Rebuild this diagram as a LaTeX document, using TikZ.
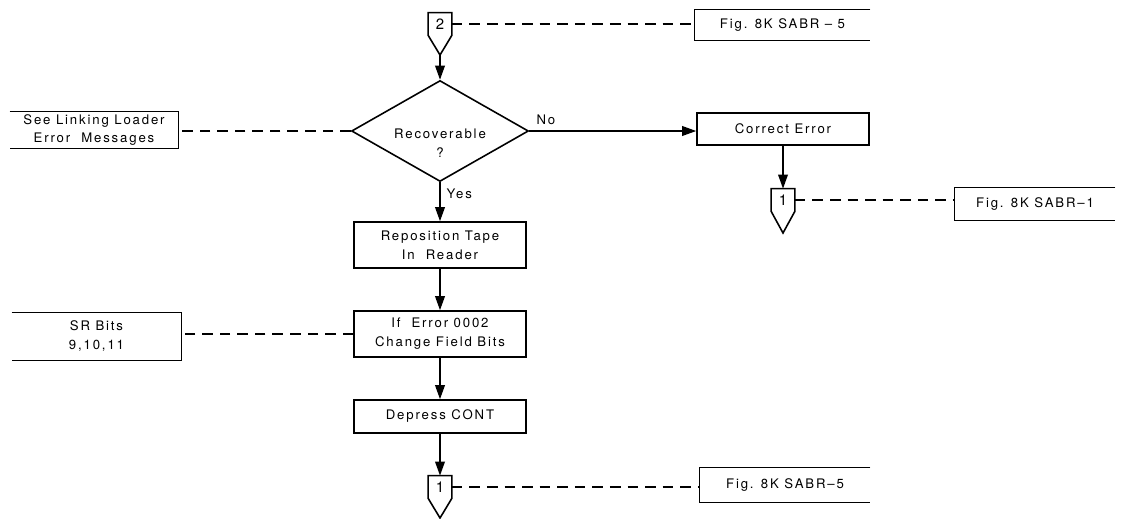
\documentclass[tikz,border=0pt]{standalone}
\usepackage{fontspec}
\setmainfont{TeX Gyre Heros}[LetterSpace=14]
\usetikzlibrary{arrows.meta,shapes.geometric}
\def\procnode{\node[draw,line width=0.9pt,minimum width=3.44cm,align=center,inner sep=0pt]}
\def\pagenode{\node[minimum width=0.46cm,minimum height=0.44cm,inner sep=0pt,font=\fontsize{8.5}{10}\selectfont]}
\def\notenode{\node[align=center,inner sep=0pt]}
\def\drawflow{\draw[line width=0.9pt,-{Triangle[length=8pt,width=5.5pt]}]}
\def\drawnote{\draw[line width=0.6pt,dash pattern=on 6pt off 4pt]}
\def\drawbox{\draw[line width=0.9pt]}

\begin{document}
\begin{tikzpicture}[x=0.02cm,y=-0.02cm,font=\fontsize{7.5}{10.8}\selectfont]
\useasboundingbox (0,0) rectangle (1125,518);
\pagenode (ctwo) at (440,24) {2};
\coordinate (ctwotip) at (440,55);
\drawbox (ctwo.south west) -- (ctwo.north west) -- (ctwo.north east) -- (ctwo.south east) -- (ctwotip) -- cycle;
\notenode[minimum width=3.5cm,minimum height=0.6cm] (figtop) at (782.5,25) {Fig. 8K SABR -- 5};
\drawbox (figtop.north east) -- (figtop.north west) -- (figtop.south west) -- (figtop.south east);
\drawnote (ctwo.east) -- (ctwo.east -| figtop.west);
\node[diamond,draw,line width=0.9pt,minimum width=3.54cm,minimum height=2.02cm,inner sep=0pt] (recov) at (440,131) {};
\node[align=center] (recovtext) at (440,143) {Recoverable\\?};
\drawflow (ctwotip) -- (recov.north);
\notenode[minimum width=3.36cm,minimum height=0.72cm] (seell) at (94,130) {See Linking Loader\\Error\ \ Messages};
\drawbox (seell.north west) -- (seell.north east) -- (seell.south east) -- (seell.south west);
\drawnote (recov.west) -- (recov.west -| seell.east);
\procnode[minimum height=0.64cm] (correct) at (783,129) {Correct Error};
\drawflow (recov.east) -- node[above,pos=0.1] {No} (recov.east -| correct.west);
\pagenode (cone) at (783,200) {1};
\coordinate (conetip) at (783,233);
\drawbox (cone.south west) -- (cone.north west) -- (cone.north east) -- (cone.south east) -- (conetip) -- cycle;
\drawflow (correct.south) -- (cone.north);
\notenode[minimum width=3.2cm,minimum height=0.64cm] (figone) at (1035,204) {Fig. 8K SABR--1};
\drawbox (figone.north east) -- (figone.north west) -- (figone.south west) -- (figone.south east);
\drawnote (cone.east) -- (cone.east -| figone.west);
\procnode[minimum height=0.92cm] (repo) at (440,245) {Reposition Tape\\In\ \ Reader};
\drawflow (recov.south) -- node[right,pos=0.3] {Yes} (repo.north);
\procnode[minimum height=0.92cm] (iferr) at (440,334) {If\ \ Error 0002\\Change Field Bits};
\drawflow (repo.south) -- (iferr.north);
\notenode[minimum width=3.38cm,minimum height=0.94cm] (srbits) at (96.5,336.5) {SR Bits\\9,10,11};
\drawbox (srbits.north west) -- (srbits.north east) -- (srbits.south east) -- (srbits.south west);
\drawnote (iferr.west) -- (iferr.west -| srbits.east);
\procnode[minimum height=0.66cm] (depress) at (440,416.5) {Depress CONT};
\drawflow (iferr.south) -- (depress.north);
\pagenode (cthree) at (440,487) {1};
\coordinate (cthreetip) at (440,518);
\drawbox (cthree.south west) -- (cthree.north west) -- (cthree.north east) -- (cthree.south east) -- (cthreetip) -- cycle;
\drawflow (depress.south) -- (cthree.north);
\notenode[minimum width=3.4cm,minimum height=0.68cm] (figbot) at (785,485) {Fig. 8K SABR--5};
\drawbox (figbot.north east) -- (figbot.north west) -- (figbot.south west) -- (figbot.south east);
\drawnote (cthree.east) -- (cthree.east -| figbot.west);
\end{tikzpicture}
\end{document}
